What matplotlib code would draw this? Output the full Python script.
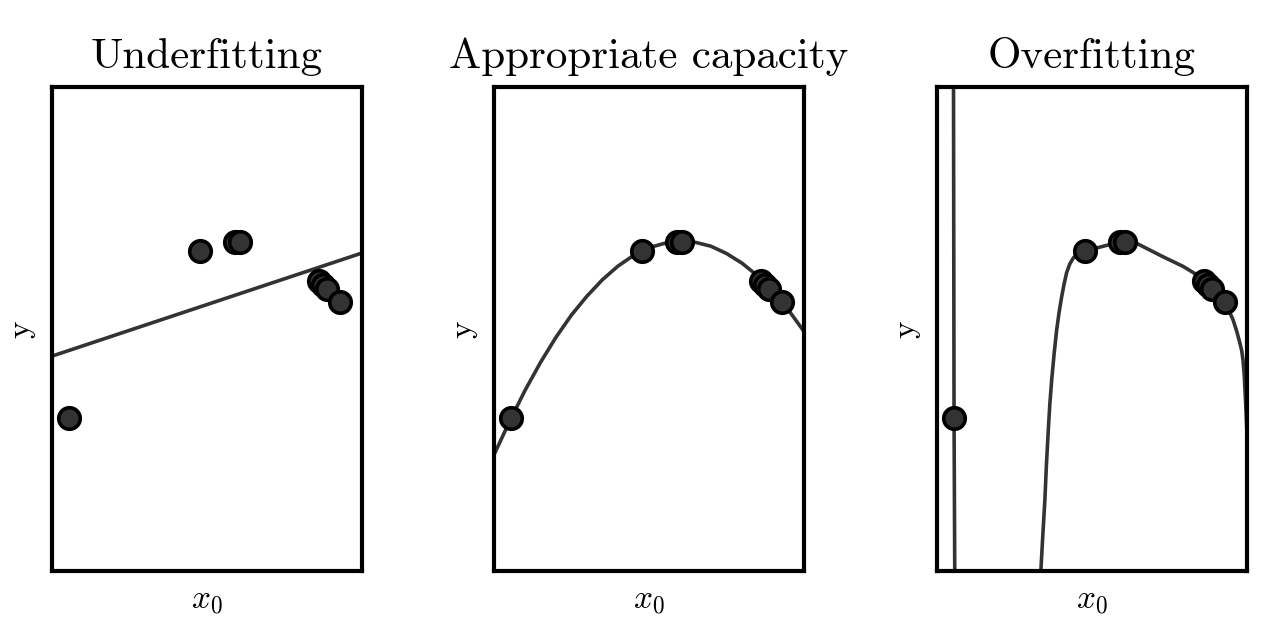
import numpy as np
import matplotlib
matplotlib.use("Agg")
import matplotlib.pyplot as plt

plt.rcParams['mathtext.fontset'] = 'cm'
plt.rcParams['axes.formatter.use_mathtext'] = True

# === DATA (x, y in panel units 0..1) ===
titles = ["Underfitting", "Appropriate capacity", "Overfitting"]

pts_x = [0.055, 0.477, 0.590, 0.606, 0.861, 0.874, 0.887, 0.929]
pts_y = [0.316, 0.661, 0.680, 0.680, 0.599, 0.591, 0.583, 0.556]

# linear fit (underfitting)
lin_x = [0.0, 1.0]
lin_y = [0.444, 0.657]

# quadratic fit (appropriate capacity)
quad_x = [0.00, 0.05, 0.10, 0.15, 0.20, 0.25, 0.30, 0.35, 0.40, 0.45, 0.50,
          0.55, 0.60, 0.65, 0.70, 0.75, 0.80, 0.85, 0.90, 0.95, 1.00]
quad_y = [0.240, 0.309, 0.373, 0.431, 0.483, 0.529, 0.568, 0.602, 0.630,
          0.652, 0.668, 0.677, 0.681, 0.679, 0.671, 0.656, 0.636, 0.610,
          0.578, 0.539, 0.495]

# high degree fit (overfitting): steep branch through the first point ...
over_a_x = [0.053, 0.055, 0.058]
over_a_y = [1.100, 0.316, -0.100]
# ... and the branch through the rest
over_b_x = [0.335, 0.341, 0.348, 0.353, 0.359, 0.364, 0.370, 0.378, 0.386,
            0.394, 0.402, 0.410, 0.418, 0.428, 0.440, 0.455, 0.477, 0.590,
            0.606, 0.644, 0.730, 0.795, 0.838, 0.861, 0.874, 0.887, 0.929,
            0.955, 0.967, 0.977, 0.983, 0.987, 0.991, 0.994, 0.997, 1.000]
over_b_y = [0.000, 0.070, 0.147, 0.220, 0.291, 0.345, 0.395, 0.450, 0.498,
            0.535, 0.566, 0.593, 0.616, 0.634, 0.647, 0.656, 0.661, 0.680,
            0.681, 0.677, 0.649, 0.629, 0.612, 0.599, 0.591, 0.583, 0.556,
            0.519, 0.495, 0.471, 0.455, 0.436, 0.405, 0.368, 0.330, 0.280]

curves = [
    [(lin_x, lin_y)],
    [(quad_x, quad_y)],
    [(over_a_x, over_a_y), (over_b_x, over_b_y)],
]

# === PLOT ===
fig = plt.figure(figsize=(12.7, 6.24), dpi=100)
lefts = [52 / 1270, 494 / 1270, 937 / 1270]
w, h = 310 / 1270, 484 / 624
bottom = 1 - 571 / 624

line_col = "#333333"
for left, title, segs in zip(lefts, titles, curves):
    ax = fig.add_axes([left, bottom, w, h])
    for cx, cy in segs:
        ax.plot(cx, cy, color=line_col, lw=2.6, zorder=2,
                solid_joinstyle="round")
    ax.plot(pts_x, pts_y, "o", ms=15.5, mfc=line_col, mec="black", mew=2.6,
            zorder=3)
    ax.set_xlim(0, 1)
    ax.set_ylim(0, 1)
    ax.set_xticks([])
    ax.set_yticks([])
    for sp in ax.spines.values():
        sp.set_linewidth(3)
    ax.set_title(title, fontfamily="cmr10", fontsize=31, pad=14)
    ax.set_xlabel(r"$x_0$", fontsize=24, labelpad=9)
    ax.set_ylabel("y", fontfamily="cmr10", fontsize=24, labelpad=12)

fig.savefig("out.png", dpi=100)
